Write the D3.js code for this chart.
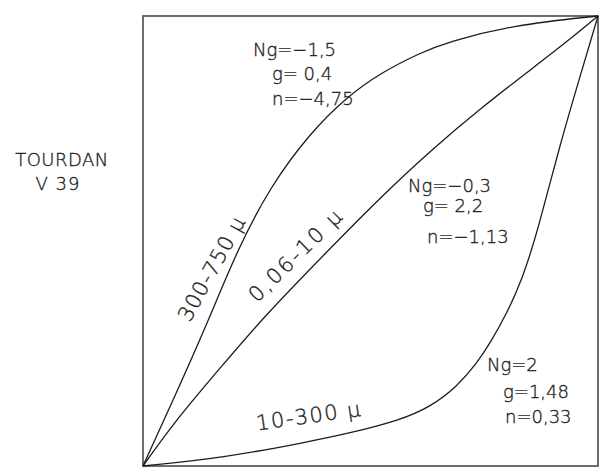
<!DOCTYPE html>
<html>
<head>
<meta charset="utf-8">
<script src="https://cdn.jsdelivr.net/npm/d3@7"></script>
<style>
  body { margin: 0; background: #fff; }
  svg { display: block; }
  text { font-family: "DejaVu Sans", sans-serif; font-weight: 200; fill: #1e1e1e; stroke: #1e1e1e; stroke-width: 0.35px; }
</style>
</head>
<body>
<div id="viz"></div>
<script>
// cumulative curves, both axes in % of the square (0 = bottom-left, 100 = top-right)
var coarseX = [0, 6.6, 14.1, 20.7, 27.9, 36.7, 44.8, 52.1, 60.9, 66.8, 81.3, 100];
var coarseY = [0, 14.6, 31.6, 48.0, 62.0, 74.0, 82.0, 87.3, 91.8, 94.2, 98.0, 100];

var mixedX = [0, 6.6, 16.3, 26.4, 40.4, 52.1, 63.1, 74.1, 85.1, 93.2, 100];
var mixedY = [0, 9.4, 21.0, 33.0, 47.6, 59.6, 70.0, 79.4, 88.0, 94.3, 100];

var fineX = [0, 17.6, 36.0, 45.5, 56.5, 63.1, 69.0, 73.4, 76.3, 80.0, 83.3, 86.8, 91.6, 96.0, 100];
var fineY = [0, 1.8, 5.3, 7.3, 10.2, 13.1, 17.6, 22.9, 27.3, 34.0, 41.3, 52.4, 71.3, 86.4, 100];

// texts
var siteName = ['TOURDAN', 'V 39'];
var curveNames = ['300-750 μ', '0,06-10 μ', '10-300 μ'];
var coarseStats = ['Ng=−1,5', 'g= 0,4', 'n=−4,75'];
var mixedStats = ['Ng=−0,3', 'g= 2,2', 'n=−1,13'];
var fineStats = ['Ng=2', 'g=1,48', 'n=0,33'];

var svg = d3.select('#viz').append('svg')
  .attr('width', 600)
  .attr('height', 467);

// the square
var boxLeft = 143, boxRight = 598, boxTop = 16, boxBottom = 466;
var x = d3.scaleLinear().domain([0, 100]).range([boxLeft, boxRight]);
var y = d3.scaleLinear().domain([0, 100]).range([boxBottom, boxTop]);

svg.append('rect')
  .attr('x', x(0))
  .attr('y', y(100))
  .attr('width', x(100) - x(0))
  .attr('height', y(0) - y(100))
  .attr('fill', 'none')
  .attr('stroke', '#4a4a4a')
  .attr('stroke-width', 1.6);

var line = d3.line()
  .x(function(d) { return x(d[0]); })
  .y(function(d) { return y(d[1]); })
  .curve(d3.curveBasis);

function pairs(xs, ys) {
  return xs.map(function(v, i) { return [v, ys[i]]; });
}

[pairs(coarseX, coarseY), pairs(mixedX, mixedY), pairs(fineX, fineY)].forEach(function(pts) {
  svg.append('path')
    .datum(pts)
    .attr('d', line)
    .attr('fill', 'none')
    .attr('stroke', '#1c1c1c')
    .attr('stroke-width', 1.3);
});

// site label on the left
svg.append('text').attr('x', 62).attr('y', 166)
  .attr('text-anchor', 'middle').attr('font-size', 18).attr('letter-spacing', 0.5).text(siteName[0]);
svg.append('text').attr('x', 58).attr('y', 190)
  .attr('text-anchor', 'middle').attr('font-size', 18).attr('letter-spacing', 1).text(siteName[1]);

// labels along the curves: [x, y, angle, letter-spacing]
var curveLabelPos = [[218, 272, -61, 1], [301, 260, -44.5, 2.5], [310, 423, -8, 1.5]];
curveNames.forEach(function(t, i) {
  var p = curveLabelPos[i];
  svg.append('text')
    .attr('transform', 'translate(' + p[0] + ',' + p[1] + ') rotate(' + p[2] + ')')
    .attr('text-anchor', 'middle')
    .attr('font-size', 21)
    .attr('letter-spacing', p[3])
    .text(t);
});

// parameter blocks
function statBlock(lines, xs, ys) {
  lines.forEach(function(t, i) {
    svg.append('text')
      .attr('x', xs[i])
      .attr('y', ys[i])
      .attr('font-size', 18)
      .text(t);
  });
}
statBlock(coarseStats, [253, 272, 272], [56, 80, 105]);
statBlock(mixedStats, [408, 423, 427], [192, 212, 243]);
statBlock(fineStats, [487, 503, 505], [371, 398, 423]);
</script>
</body>
</html>
